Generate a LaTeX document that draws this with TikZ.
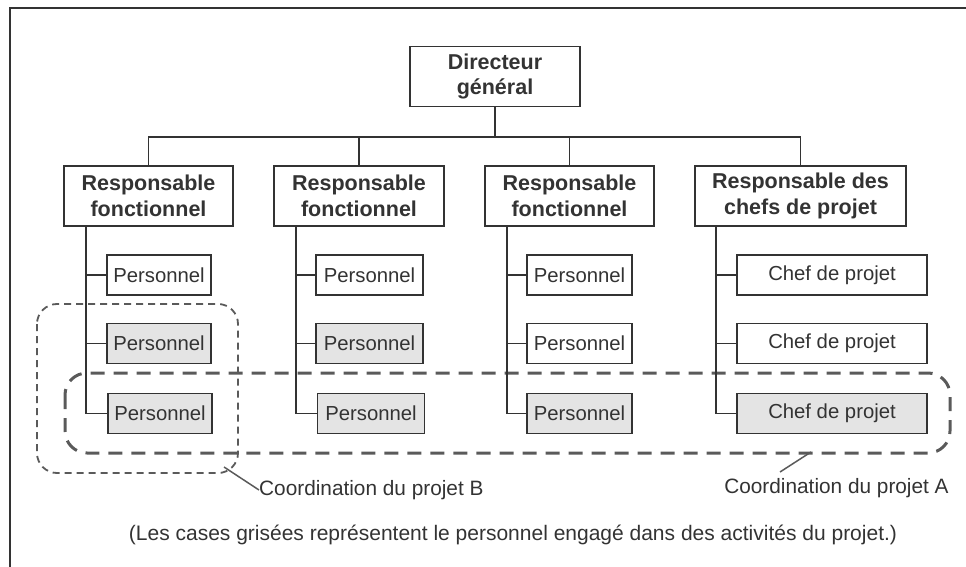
\documentclass[tikz,border=0pt]{standalone}
\usepackage{fontspec}
\setmainfont{Liberation Sans}
\definecolor{ink}{HTML}{333333}
\definecolor{dashgray}{HTML}{5A5A5A}
\definecolor{shade}{HTML}{E4E4E4}
\begin{document}
\begin{tikzpicture}[x=1pt,y=-1pt,
  every node/.style={text=ink},
  head/.style={draw=ink,line width=1.6pt,fill=white,minimum height=60pt,align=center,inner sep=0pt,
     font=\fontsize{21.5}{25.5}\selectfont\bfseries},
  staff/.style={draw=ink,line width=1.6pt,fill=white,minimum height=40pt,inner sep=0pt,
     font=\fontsize{20.3}{23}\selectfont},
  gray/.style={fill=shade},
  link/.style={draw=ink,line width=1.5pt},
  dashB/.style={draw=dashgray,line width=1.8pt,dash pattern=on 7pt off 5pt,rounded corners=20pt},
  dashA/.style={draw=dashgray,line width=3pt,dash pattern=on 14pt off 9pt,rounded corners=22pt},
  pointer/.style={draw=dashgray,line width=1.5pt},
  lbl/.style={font=\fontsize{20.8}{23}\selectfont,inner sep=0pt}]
\useasboundingbox (0,0) rectangle (966,567);
\draw[ink,line width=1.8pt] (10,575) -- (10,8) -- (975,8);

% top
\node[head,minimum width=170pt] (D) at (495,76.5) {Directeur\\général};
\node[head,minimum width=169pt] (R1) at (148.5,196) {Responsable\\fonctionnel};
\node[head,minimum width=170pt] (R2) at (359,196) {Responsable\\fonctionnel};
\node[head,minimum width=169pt] (R3) at (569.5,196) {Responsable\\fonctionnel};
\node[head,minimum width=211pt] (R4) at (800.5,196) {Responsable des\\chefs de projet};
\coordinate (bus) at (495,137);
\draw[link] (D.south) -- (D.south |- bus) -| (R1.north);
\draw[link] (D.south |- bus) -| (R2.north);
\draw[link] (D.south |- bus) -| (R3.north);
\draw[link] (D.south |- bus) -| (R4.north);

% dashed A (behind boxes)
\draw[dashA] (65,373) rectangle (950,453);

% staff boxes
\node[staff,minimum width=104pt] (p11) at (159,275) {Personnel};
\node[staff,minimum width=104pt,gray] (p12) at (159,343.5) {Personnel};
\node[staff,minimum width=104pt,gray] (p13) at (160,413.5) {Personnel};
\node[staff,minimum width=107pt] (p21) at (369.5,275) {Personnel};
\node[staff,minimum width=107pt,gray] (p22) at (369.5,343.5) {Personnel};
\node[staff,minimum width=107pt,gray] (p23) at (371,413.5) {Personnel};
\node[staff,minimum width=105pt] (p31) at (579.5,275) {Personnel};
\node[staff,minimum width=105pt] (p32) at (579.5,343.5) {Personnel};
\node[staff,minimum width=105pt,gray] (p33) at (579.5,413.5) {Personnel};
\node[staff,minimum width=190pt] (p41) at (832,275) {Chef de projet};
\node[staff,minimum width=190pt] (p42) at (832,343.5) {Chef de projet};
\node[staff,minimum width=190pt,gray] (p43) at (832,413.5) {Chef de projet};

\coordinate (t1) at (86,226);
\coordinate (t2) at (296,226);
\coordinate (t3) at (507,226);
\coordinate (t4) at (716,226);
\foreach \c in {1,2,3,4}{
  \draw[link] (t\c) |- (p\c 1.west);
  \draw[link] (t\c) |- (p\c 2.west);
  \draw[link] (t\c) |- (p\c 3.west);
}

% dashed B
\draw[dashB] (37,304) rectangle (238,473);

% labels
\node[lbl,anchor=west] (lB) at (259,490) {Coordination du projet B};
\coordinate (cB) at (224,467);
\draw[pointer] (cB) -- (lB.west);
\node[lbl] (lA) at (836.5,488) {Coordination du projet A};
\coordinate (cA) at (811,452);
\coordinate (eA) at (780,472);
\draw[pointer] (cA) -- (eA);

\node[lbl,font=\fontsize{21}{23}\selectfont] (cap) at (513,535) {(Les cases grisées représentent le personnel engagé dans des activités du projet.)};
\end{tikzpicture}
\end{document}
